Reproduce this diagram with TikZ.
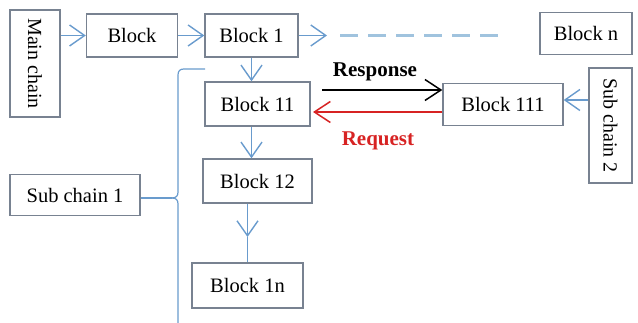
\documentclass[tikz,border=0pt]{standalone}
\usepackage{fontspec}
\setmainfont{Liberation Serif}
\usetikzlibrary{arrows.meta}
\definecolor{boxc}{RGB}{120,130,145}
\definecolor{arrc}{RGB}{105,155,205}
\definecolor{dashc}{RGB}{160,195,222}
\definecolor{reqc}{RGB}{215,35,35}
\tikzset{
  blk/.style={draw=boxc, line width=1.4pt, fill=white, inner sep=0pt, font=\fontsize{20.5}{24}\selectfont},
  vtxt/.style={font=\fontsize{20}{24}\selectfont, rotate=-90, inner sep=0pt},
  barrow/.style={draw=arrc, line width=1.4pt, -{Straight Barb[length=15pt,width=21pt,line width=1.4pt]}},
  bline/.style={draw=arrc, line width=1.2pt},
  lab/.style={font=\fontsize{21}{24}\selectfont\bfseries, inner sep=0pt},
  rarrow/.style={line width=1.5pt, -{Straight Barb[length=16pt,width=21pt,line width=1.5pt]}}
}
\begin{document}
\begin{tikzpicture}[x=1pt,y=-1pt]
\useasboundingbox (0,0) rectangle (638,323);
\node[blk, minimum width=50pt, minimum height=107pt] (mc) at (35,63.5) {};
\node[vtxt] (mct) at (mc.center) {Main chain};
\node[blk, minimum width=91pt, minimum height=43pt] (b0) at (132,35.5) {Block};
\node[blk, minimum width=93pt, minimum height=43pt] (b1) at (251.5,35.5) {Block 1};
\node[blk, minimum width=92pt, minimum height=42pt] (bn) at (586,33.5) {Block n};
\node[blk, minimum width=105pt, minimum height=44pt] (b11) at (257.5,104) {Block 11};
\node[blk, minimum width=109pt, minimum height=44pt] (b12) at (257.5,181) {Block 12};
\node[blk, minimum width=111pt, minimum height=45pt] (b1n) at (247.5,285.5) {Block 1n};
\node[blk, minimum width=120pt, minimum height=42pt] (b111) at (503,104.5) {Block 111};
\node[blk, minimum width=43pt, minimum height=115pt] (sc2) at (610.5,125.5) {};
\node[vtxt] (sc2t) at (sc2.center) {Sub chain 2};
\node[blk, minimum width=130pt, minimum height=41pt] (sc1) at (75,195) {Sub chain 1};

% main chain arrows
\draw[barrow] (mc.east |- b0.west) -- (b0.west);
\draw[barrow] (b0.east) -- (b1.west);
\coordinate (d1) at (327,35.5);
\coordinate (d2) at (340,35.5);
\coordinate (d3) at (502,35.5);
\draw[barrow] (b1.east) -- (d1);
\draw[draw=dashc, line width=2.4pt, dash pattern=on 18pt off 10pt] (d2) -- (d3);

% sub chain 1 arrows
\draw[barrow] (b1.south) -- (b1.south |- b11.north);
\draw[barrow] (b1.south |- b11.south) -- (b1.south |- b12.north);
\coordinate (m1) at (b1n.north |- 0,237);
\draw[barrow] (b12.south -| b1n.north) -- (m1);
\draw[draw=arrc, line width=0.9pt] (m1) -- (b1n.north);

% brace
\coordinate (br0) at (205,69);
\coordinate (brb) at (178,323);
\coordinate (brn) at (172,198);
\draw[bline] (br0) -- (184,69) .. controls (180,69) and (178,71) .. (178,75)
  -- (178,192) .. controls (178,196) and (176,198) .. (brn);
\draw[bline] (brn) .. controls (176,198) and (178,200) .. (178,204) -- (brb);
\draw[bline] (sc1.east |- brn) -- (brn);

% sub chain 2
\draw[barrow] (sc2.west |- 0,100) -- (b111.east |- 0,100);

% response / request
\coordinate (r1) at (322,90);
\draw[rarrow] (r1) -- (r1 -| b111.west);
\coordinate (q1) at (313,112);
\draw[rarrow, draw=reqc] (b111.west |- q1) -- (q1);
\node[lab] (resp) at (375,72) {Response};
\node[lab, text=reqc] (req) at (378,141) {Request};
\end{tikzpicture}
\end{document}
